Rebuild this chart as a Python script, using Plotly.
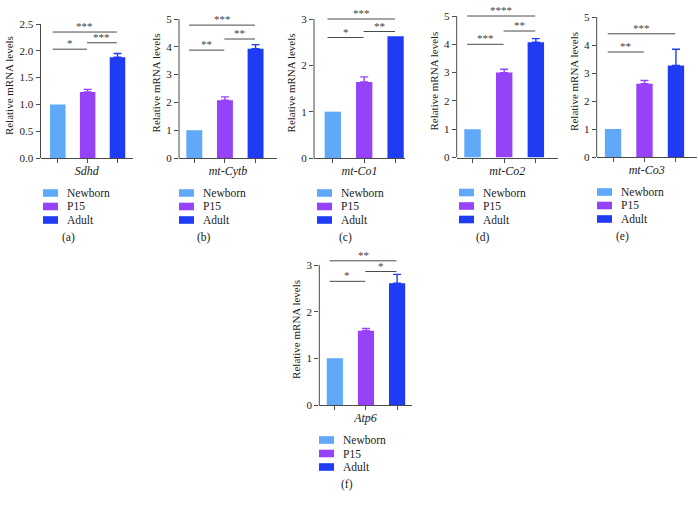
import plotly.graph_objects as go

# ---------------- data ----------------
groups = ["Newborn", "P15", "Adult"]
colors = ["#5FA9F8", "#9642F8", "#1F3CF4"]

genes = ["Sdhd", "mt-Cytb", "mt-Co1", "mt-Co2", "mt-Co3", "Atp6"]
tags = ["(a)", "(b)", "(c)", "(d)", "(e)", "(f)"]

mean_sdhd = [1.0, 1.23, 1.88]
err_sdhd = [0.0, 0.05, 0.07]
mean_cytb = [1.0, 2.08, 3.93]
err_cytb = [0.0, 0.12, 0.15]
mean_co1 = [1.0, 1.64, 2.63]
err_co1 = [0.0, 0.11, 0.0]
mean_co2 = [1.0, 3.0, 4.07]
err_co2 = [0.0, 0.12, 0.13]
mean_co3 = [1.0, 2.62, 3.27]
err_co3 = [0.0, 0.11, 0.58]
mean_atp6 = [1.0, 1.59, 2.61]
err_atp6 = [0.0, 0.05, 0.19]

# significance brackets: (group i, group j, bracket height, label)
sig_sdhd = [(0, 1, 2.03, "*"), (0, 2, 2.35, "***"), (1, 2, 2.15, "***")]
sig_cytb = [(0, 1, 3.88, "**"), (0, 2, 4.78, "***"), (1, 2, 4.28, "**")]
sig_co1 = [(0, 1, 2.60, "*"), (0, 2, 3.00, "***"), (1, 2, 2.73, "**")]
sig_co2 = [(0, 1, 4.00, "***"), (0, 2, 5.00, "****"), (1, 2, 4.47, "**")]
sig_co3 = [(0, 1, 3.75, "**"), (0, 2, 4.40, "***")]
sig_atp6 = [(0, 1, 2.65, "*"), (0, 2, 3.09, "**"), (1, 2, 2.86, "*")]

yticks_a = [0.0, 0.5, 1.0, 1.5, 2.0, 2.5]
yticks_5 = [0, 1, 2, 3, 4, 5]
yticks_3 = [0, 1, 2, 3]

means = [mean_sdhd, mean_cytb, mean_co1, mean_co2, mean_co3, mean_atp6]
errs = [err_sdhd, err_cytb, err_co1, err_co2, err_co3, err_atp6]
sigs = [sig_sdhd, sig_cytb, sig_co1, sig_co2, sig_co3, sig_atp6]
yticks = [yticks_a, yticks_5, yticks_3, yticks_5, yticks_5, yticks_3]

# ---------------- layout (pixels) ----------------
W, H = 698, 508
panels = [
    dict(ax=40.5, ex=133, xr=[-0.58, 2.52], y0=158, yt=24, lx=43, tc=68),
    dict(ax=179, ex=277, xr=[-0.5, 2.7], y0=158, yt=19, lx=179, tc=204),
    dict(ax=314, ex=405, xr=[-0.6, 2.3], y0=158, yt=19, lx=317, tc=345),
    dict(ax=456.7, ex=558, xr=[-0.5, 2.7], y0=157.5, yt=16, lx=459, tc=483),
    dict(ax=596.7, ex=696.7, xr=[-0.52, 2.66], y0=157, yt=17, lx=597, tc=622),
    dict(ax=319.3, ex=411.7, xr=[-0.5, 2.47], y0=405, yt=265, lx=319, tc=347),
]

FONT = "Liberation Serif"
AX = "#4a4a4a"
EXT = 1.08


def fx(px):
    return px / W


def fy(py):
    return 1 - py / H


fig = go.Figure()
shapes = []
annos = []

for k, p in enumerate(panels):
    n = "" if k == 0 else str(k + 1)
    xa, ya = "x" + n, "y" + n
    top = yticks[k][-1]
    for g in range(3):
        fig.add_trace(go.Bar(
            x=[g], y=[means[k][g]], width=0.52,
            marker=dict(color=colors[g], line=dict(width=0)),
            error_y=dict(type="data", symmetric=False, array=[errs[k][g]],
                         arrayminus=[0], color=colors[g], thickness=1.4,
                         width=4, visible=errs[k][g] > 0),
            name=groups[g], showlegend=False, xaxis=xa, yaxis=ya,
        ))
    ytop_ext = p["y0"] - (p["y0"] - p["yt"]) * EXT
    fig.layout["xaxis" + n] = dict(
        domain=[fx(p["ax"]), fx(p["ex"])], range=p["xr"], anchor=ya,
        showline=True, linecolor=AX, linewidth=1, ticks="outside",
        ticklen=4, tickcolor=AX, tickwidth=1, tickvals=[0, 1, 2],
        ticktext=["", "", ""], showticklabels=True,
        showgrid=False, zeroline=False, fixedrange=True, automargin=False,
        title=dict(text="<i>%s</i>" % genes[k], standoff=2,
                   font=dict(family=FONT, size=12, color="#222")),
    )
    fig.layout["yaxis" + n] = dict(
        domain=[fy(p["y0"]), fy(ytop_ext)], range=[0, top * EXT], anchor=xa,
        showline=False, ticks="outside", ticklen=4, tickcolor=AX,
        tickwidth=1, tickvals=yticks[k],
        tickformat=".1f" if k == 0 else "d",
        tickfont=dict(family=FONT, size=11, color="#222"),
        showgrid=False, zeroline=False, fixedrange=True, automargin=False,
        title=dict(text="Relative mRNA levels", standoff=3,
                   font=dict(family=FONT, size=11, color="#222")),
    )
    shapes.append(dict(type="line", xref="x%s domain" % n, yref=ya,
                       x0=0, x1=0, y0=0, y1=top, layer="above",
                       line=dict(color=AX, width=1)))
    for (i, j, yv, lab) in sigs[k]:
        x0 = i - (0.17 if i == 0 else 0.02)
        x1 = j - 0.02
        shapes.append(dict(type="line", xref=xa, yref=ya, x0=x0, x1=x1,
                           y0=yv, y1=yv, line=dict(color=AX, width=1)))
        annos.append(dict(x=(x0 + x1) / 2, y=yv, xref=xa, yref=ya,
                          text=lab, showarrow=False, yanchor="bottom",
                          yshift=-2,
                          font=dict(family=FONT, size=11, color="#444")))
    row1 = p["y0"] + 35
    for g in range(3):
        r = row1 + g * 13.5
        shapes.append(dict(type="rect", xref="paper", yref="paper",
                           x0=fx(p["lx"]), x1=fx(p["lx"] + 15),
                           y0=fy(r + 3.8), y1=fy(r - 3.8),
                           fillcolor=colors[g], line=dict(width=0)))
        annos.append(dict(x=fx(p["lx"] + 22), y=fy(r), xref="paper",
                          yref="paper", text=groups[g], showarrow=False,
                          xanchor="left", yanchor="middle",
                          font=dict(family=FONT, size=11.5, color="#222")))
    annos.append(dict(x=fx(p["tc"]), y=fy(row1 + 44.5), xref="paper",
                      yref="paper", text=tags[k], showarrow=False,
                      xanchor="center", yanchor="middle",
                      font=dict(family=FONT, size=11.5, color="#222")))

fig.update_layout(
    width=W, height=H, margin=dict(l=0, r=0, t=0, b=0, autoexpand=False),
    paper_bgcolor="white", plot_bgcolor="white", barmode="overlay",
    shapes=shapes, annotations=annos, showlegend=False,
    font=dict(family=FONT),
)

fig.write_html("out.html", config={"displayModeBar": False},
               post_script="document.body.style.margin='0';"
                           "document.body.style.padding='0';")
